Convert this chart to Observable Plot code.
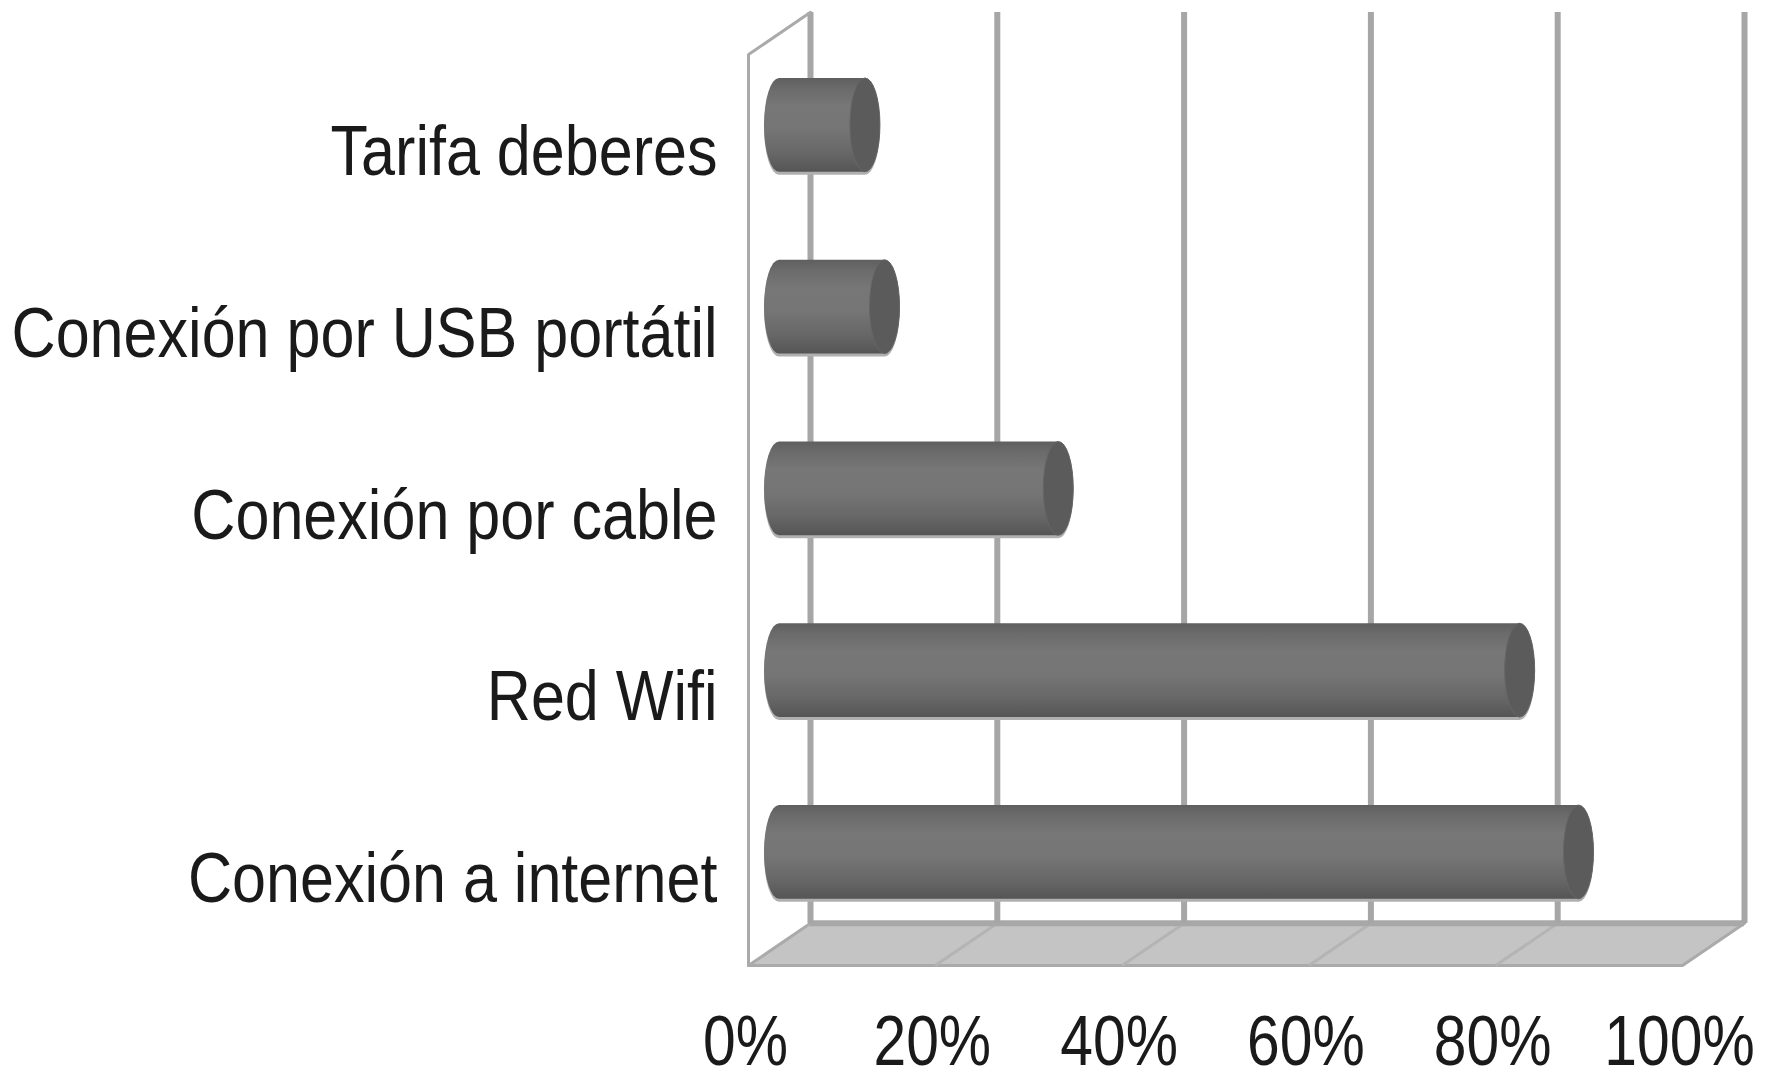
<!DOCTYPE html>
<html><head><meta charset="utf-8">
<script src="https://cdn.jsdelivr.net/npm/d3@7"></script>
<script src="https://cdn.jsdelivr.net/npm/@observablehq/plot@0.6"></script>
<style>html,body{margin:0;padding:0;background:#fff;overflow:hidden}svg{display:block}</style>
</head><body><div id="chart"></div>
<script>
const categories = ["Conexión a internet", "Red Wifi", "Conexión por cable", "Conexión por USB portátil", "Tarifa deberes"];
const values = [85.6, 79.3, 29.9, 11.3, 9.2];
const xTicks = [0, 20, 40, 60, 80, 100];
const rows = categories.map((c, i) => ({c, i, v: values[i]}));

const yFloor = -0.622, yTop = 4.39, halfBar = 0.258;
const depthX = 6.64, depthY = 0.232;
const depthPxX = 62, depthPxY = -42;
const xLast = xTicks[xTicks.length - 1];

const floorPoly = [
  {x: 0, y: yFloor}, {x: xLast, y: yFloor},
  {x: xLast + depthX, y: yFloor + depthY}, {x: depthX, y: yFloor + depthY}, {x: 0, y: yFloor}
];
const wallPoly = [
  {x: 0, y: yFloor}, {x: 0, y: yTop}, {x: depthX, y: yTop + depthY}
];

const defs = () => {
  const d = d3.create("svg:defs");
  const g = d.append("linearGradient").attr("id", "cyl").attr("x1", 0).attr("x2", 0).attr("y1", 0).attr("y2", 1);
  [[0, "#5f5f5f"], [0.1, "#6a6a6a"], [0.3, "#777777"], [0.55, "#757575"], [0.8, "#676767"], [1, "#555555"]]
    .forEach(([o, c]) => g.append("stop").attr("offset", o).attr("stop-color", c));
  return d.node();
};

const barOpts = {
  y1: d => d.i - halfBar, y2: d => d.i + halfBar,
  dx: depthPxX / 2, rx: 15, ry: 47, insetLeft: -15, insetRight: -15
};

const plot = Plot.plot({
  width: 1775, height: 1074,
  marginLeft: 748, marginRight: 93, marginTop: 54, marginBottom: 109,
  style: {background: "#fff", fontFamily: "'Liberation Sans',sans-serif"},
  x: {domain: [0, xLast], label: null},
  y: {domain: [yFloor, yTop], label: null},
  marks: [
    defs,
    Plot.line(floorPoly, {x: "x", y: "y", fill: "#c4c4c4", stroke: "#aaaaaa", strokeWidth: 3}),
    Plot.link(xTicks.slice(1, -1), {x1: d => d, x2: d => d + depthX, y1: yFloor, y2: yFloor + depthY, stroke: "#b4b4b4", strokeWidth: 3}),
    Plot.ruleY([yFloor + depthY], {x1: depthX, x2: xLast + depthX, stroke: "#a8a8a8", strokeWidth: 6}),
    Plot.ruleX(xTicks, {x: d => d, y1: yFloor, y2: yTop, dx: depthPxX, dy: depthPxY, stroke: "#a6a6a6", strokeWidth: 6}),
    Plot.line(wallPoly, {x: "x", y: "y", stroke: "#aaaaaa", strokeWidth: 3, strokeLinejoin: "miter"}),
    Plot.rect(rows, {x1: 0, x2: "v", ...barOpts, dy: 3, fill: "#b0b0b0"}),
    Plot.rect(rows, {x1: 0, x2: "v", ...barOpts, fill: "url(#cyl)"}),
    Plot.rect(rows, {x1: "v", x2: "v", ...barOpts, fill: "#5b5b5b", stroke: "#666666", strokeWidth: 1}),
    Plot.axisX(xTicks, {tickSize: 0, tickPadding: 50, dx: -3, fontSize: 70, fill: "#1a1a1a", tickFormat: d => d + "%", label: null}),
    Plot.axisY(rows.map(d => d.i), {tickSize: 0, tickPadding: 31, dy: 27, fontSize: 71, fill: "#1a1a1a", tickFormat: i => categories[i], label: null})
  ]
});
document.getElementById("chart").append(plot);
const squeeze = (sel, k) => plot.querySelectorAll(sel).forEach(t => {
  t.setAttribute("textLength", t.getComputedTextLength() * k);
  t.setAttribute("lengthAdjust", "spacingAndGlyphs");
});
squeeze('[aria-label="x-axis tick label"] text', 0.84);
squeeze('[aria-label="y-axis tick label"] text', 0.86);
</script></body></html>
